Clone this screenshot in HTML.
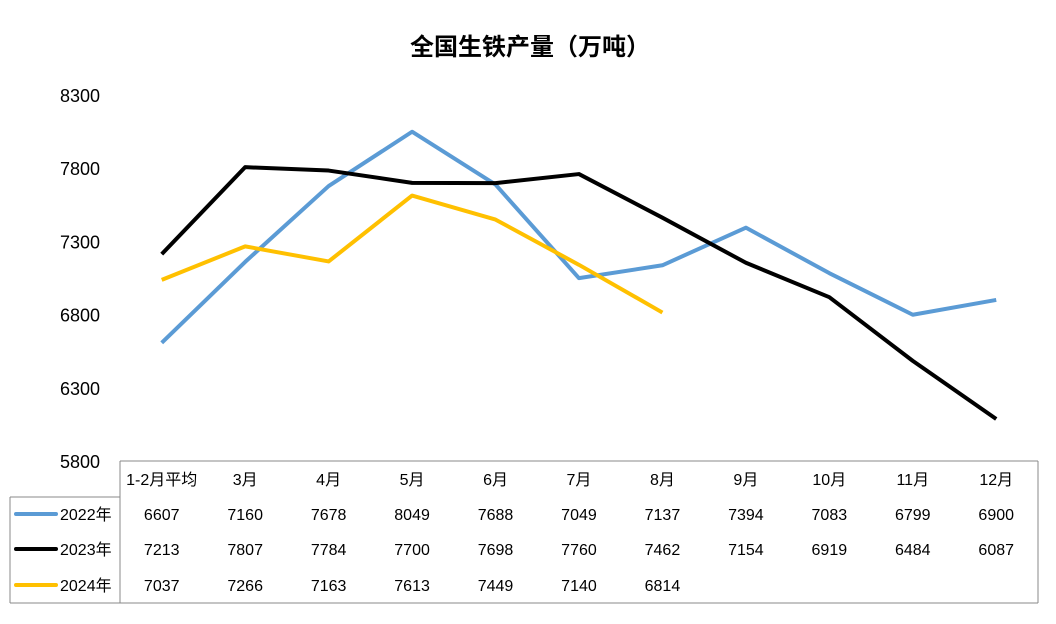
<!DOCTYPE html>
<html><head><meta charset="utf-8"><style>
body{margin:0;background:#fff;}
svg text{font-family:"Liberation Sans","Noto Sans CJK SC",sans-serif;}
</style></head><body>
<svg width="1056" height="619" xmlns="http://www.w3.org/2000/svg">
<text x="530" y="55" text-anchor="middle" font-size="24" font-weight="bold">全国生铁产量（万吨）</text>
<g id="yaxis"></g>
<g id="lines"></g>
<g id="table">
<line x1="120" y1="461" x2="1038" y2="461" stroke="#888" />
<line x1="120" y1="461" x2="120" y2="603" stroke="#888" />
<line x1="1038" y1="461" x2="1038" y2="603" stroke="#888" />
<line x1="10" y1="497" x2="120" y2="497" stroke="#888" />
<line x1="10" y1="497" x2="10" y2="603" stroke="#888" />
<line x1="10" y1="603" x2="1038" y2="603" stroke="#888" />
</g>
</svg>
<script>
const categories=["1-2月平均","3月","4月","5月","6月","7月","8月","9月","10月","11月","12月"];
const seriesNames=["2022年","2023年","2024年"];
const s2022=[6607,7160,7678,8049,7688,7049,7137,7394,7083,6799,6900];
const s2023=[7213,7807,7784,7700,7698,7760,7462,7154,6919,6484,6087];
const s2024=[7037,7266,7163,7613,7449,7140,6814];
const yTicks=[5800,6300,6800,7300,7800,8300];
const colors=["#5b9bd5","#000000","#ffc000"];
const NS="http://www.w3.org/2000/svg";
const y=v=>461-(v-5800)*366/2500;
const x=i=>120+83.45*(i+0.5);
const ya=document.getElementById('yaxis'),ln=document.getElementById('lines'),tb=document.getElementById('table');
function t(parent,tx,ty,str,anchor,size){const e=document.createElementNS(NS,'text');e.setAttribute('x',tx);e.setAttribute('y',ty);e.setAttribute('text-anchor',anchor);e.setAttribute('font-size',size);e.textContent=str;parent.appendChild(e);return e;}
yTicks.forEach(v=>{const e=t(ya,80,y(v)+7,String(v),'middle',18);

});
[s2022,s2023,s2024].forEach((s,k)=>{
const p=document.createElementNS(NS,'polyline');
p.setAttribute('points',s.map((v,i)=>x(i)+','+y(v)).join(' '));
p.setAttribute('fill','none');p.setAttribute('stroke',colors[k]);p.setAttribute('stroke-width','4');p.setAttribute('stroke-linejoin','round');


ln.appendChild(p);
});
categories.forEach((c,i)=>{const e=t(tb,x(i),485,c,'middle',16);

});
const rowY=[520,555,591];
[s2022,s2023,s2024].forEach((s,k)=>{
const l=document.createElementNS(NS,'line');
l.setAttribute('x1',16);l.setAttribute('x2',56);l.setAttribute('y1',rowY[k]-6);l.setAttribute('y2',rowY[k]-6);
l.setAttribute('stroke',colors[k]);l.setAttribute('stroke-width','4');l.setAttribute('stroke-linecap','round');


tb.appendChild(l);
const n=t(tb,60,rowY[k],seriesNames[k],'start',16);


s.forEach((v,i)=>{const e=t(tb,x(i),rowY[k],String(v),'middle',16);

});
});
</script>
</body></html>
